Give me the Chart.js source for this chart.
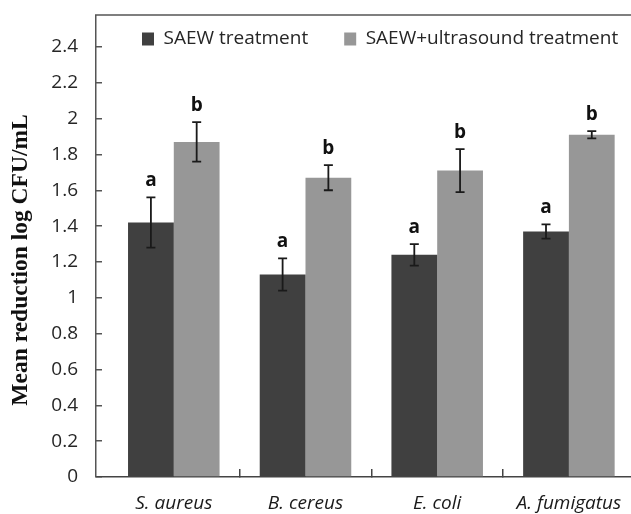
<!DOCTYPE html>
<html>
<head>
<meta charset="utf-8">
<script src="https://cdn.jsdelivr.net/npm/chart.js@4.4.1/dist/chart.umd.min.js"></script>
<style>
  html, body { margin: 0; padding: 0; background: #ffffff; overflow: hidden; }
  #wrap { width: 631px; height: 514px; }
</style>
</head>
<body>
<div id="wrap"><canvas id="chart" width="631" height="514"></canvas></div>
<script>
// Mean log reduction per organism for each treatment, with standard deviations
const categories = ['S. aureus', 'B. cereus', 'E. coli', 'A. fumigatus'];
const saew = [1.42, 1.13, 1.24, 1.37];
const saewErr = [0.14, 0.09, 0.06, 0.04];
const saewLetters = ['a', 'a', 'a', 'a'];
const combo = [1.87, 1.67, 1.71, 1.91];
const comboErr = [0.11, 0.07, 0.12, 0.02];
const comboLetters = ['b', 'b', 'b', 'b'];
const yTicks = [0, 0.2, 0.4, 0.6, 0.8, 1, 1.2, 1.4, 1.6, 1.8, 2, 2.2, 2.4];
const yTickLabels = ['0', '0.2', '0.4', '0.6', '0.8', '1', '1.2', '1.4', '1.6', '1.8', '2', '2.2', '2.4'];

const errors = [saewErr, comboErr];
const letters = [saewLetters, comboLetters];

// Error bars and significance letters drawn on top of each bar
const errorBars = {
  id: 'errorBars',
  afterDatasetsDraw(chart) {
    const ctx = chart.ctx;
    const y = chart.scales.y;
    ctx.save();
    chart.data.datasets.forEach((ds, di) => {
      const meta = chart.getDatasetMeta(di);
      meta.data.forEach((bar, i) => {
        const v = ds.data[i].y;
        const e = errors[di][i];
        const top = y.getPixelForValue(v + e);
        const bot = y.getPixelForValue(v - e);
        ctx.strokeStyle = '#1a1a1a';
        ctx.lineWidth = 1.8;
        ctx.beginPath();
        ctx.moveTo(bar.x, top); ctx.lineTo(bar.x, bot);
        ctx.moveTo(bar.x - 4.5, top); ctx.lineTo(bar.x + 4.5, top);
        ctx.moveTo(bar.x - 4.5, bot); ctx.lineTo(bar.x + 4.5, bot);
        ctx.stroke();
        ctx.fillStyle = '#111111';
        ctx.font = 'bold 19px "Open Sans"';
        ctx.textAlign = 'center';
        ctx.textBaseline = 'alphabetic';
        ctx.fillText(letters[di][i], bar.x, top - 11);
      });
    });
    ctx.restore();
  }
};

// Left and upper edges of the plot frame
const plotFrame = {
  id: 'plotFrame',
  beforeDatasetsDraw(chart) {
    const {ctx, chartArea} = chart;
    const x0 = chartArea.left - 0.25;
    ctx.save();
    ctx.strokeStyle = '#555555';
    ctx.lineWidth = 1.5;
    ctx.beginPath();
    ctx.moveTo(x0, chartArea.bottom);
    ctx.lineTo(x0, chartArea.top);
    ctx.lineTo(chartArea.right, chartArea.top);
    ctx.stroke();
    ctx.restore();
  }
};

// Legend sits inside the plot near its top; the value-axis title sits a little low
const boxPlacer = {
  id: 'boxPlacer',
  afterLayout(chart) {
    const lg = chart.legend;
    if (lg) {
      lg.left = 106;
      lg.right = 2000;
      lg.top = -6.5;
      lg.bottom = 120;
    }
    const y = chart.scales.y;
    y.top = chart.chartArea.top + 14;
    y.bottom = chart.chartArea.bottom + 14;
  }
};

new Chart(document.getElementById('chart'), {
  type: 'bar',
  data: {
    datasets: [
      {
        label: 'SAEW treatment',
        data: categories.map((c, i) => ({x: i, y: saew[i]})),
        backgroundColor: '#404040',
        borderWidth: 0
      },
      {
        label: 'SAEW+ultrasound treatment',
        data: categories.map((c, i) => ({x: i, y: combo[i]})),
        backgroundColor: '#979797',
        borderWidth: 0
      }
    ]
  },
  options: {
    responsive: false,
    animation: false,
    devicePixelRatio: 1,
    categoryPercentage: 0.695,
    barPercentage: 1,
    layout: { padding: { top: 15, left: 0, right: 0, bottom: 0 } },
    plugins: {
      legend: {
        position: 'top',
        align: 'start',
        maxHeight: 0.01,
        labels: {
          boxWidth: 12,
          boxHeight: 13,
          padding: 36,
          color: '#262626',
          font: { family: 'Open Sans', size: 19 }
        }
      },
      tooltip: { enabled: false }
    },
    scales: {
      x: {
        type: 'linear',
        min: -0.5907,
        max: 3.4716,
        offset: false,
        afterBuildTicks: (s) => { s.ticks = categories.map((c, i) => ({ value: i })); },
        afterFit: (s) => { s.height = 37; s.paddingLeft = 0; s.paddingRight = 0; },
        ticks: {
          autoSkip: false,
          maxRotation: 0,
          padding: 23,
          color: '#1a1a1a',
          font: { family: 'Open Sans', size: 19, style: 'italic' },
          callback: (v) => categories[v]
        },
        grid: {
          offset: true,
          drawOnChartArea: false,
          tickLength: -8,
          lineWidth: 1.5,
          color: (c) => (c.index === 0 ? 'rgba(0,0,0,0)' : '#444444')
        },
        border: { color: '#444444', width: 1.5 }
      },
      y: {
        min: 0,
        max: 2.578,
        afterBuildTicks: (s) => { s.ticks = yTicks.map((v) => ({ value: v })); },
        afterFit: (s) => { s.width = 96; s.paddingTop = 0; s.paddingBottom = 0; },
        ticks: {
          padding: 24,
          color: '#262626',
          font: { family: 'Open Sans', size: 19 },
          callback: (v) => yTickLabels[yTicks.indexOf(v)]
        },
        grid: {
          drawOnChartArea: false,
          tickLength: -6,
          lineWidth: 1.5,
          color: '#555555'
        },
        border: { display: false },
        title: {
          display: true,
          text: 'Mean reduction log CFU/mL',
          color: '#111111',
          font: { family: 'Liberation Serif', size: 23.5, weight: 'bold' },
          padding: { top: 7, bottom: 0 }
        }
      }
    }
  },
  plugins: [errorBars, plotFrame, boxPlacer]
});
</script>
</body>
</html>
